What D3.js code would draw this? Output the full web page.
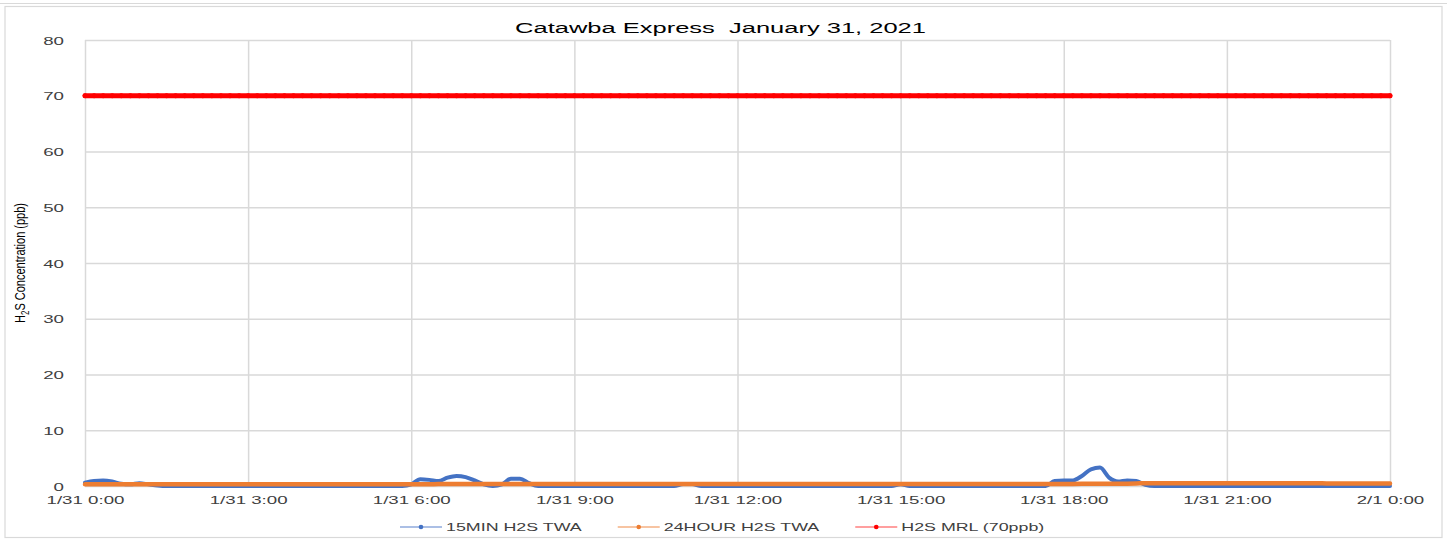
<!DOCTYPE html>
<html><head><meta charset="utf-8">
<script src="https://cdn.jsdelivr.net/npm/d3@7"></script>
<style>body{margin:0;background:#fff}svg{display:block}text{white-space:pre}</style>
</head><body>
<script>
// ---------- data ----------
const chartTitle = "Catawba Express  January 31, 2021";
const yAxisTitle = ["H", "2", "S Concentration (ppb)"];
const yTicks = [0, 10, 20, 30, 40, 50, 60, 70, 80];
const xTickMinutes = [0, 180, 360, 540, 720, 900, 1080, 1260, 1440];
const xTickLabels = ["1/31 0:00", "1/31 3:00", "1/31 6:00", "1/31 9:00", "1/31 12:00", "1/31 15:00", "1/31 18:00", "1/31 21:00", "2/1 0:00"];
const seriesNames = ["15MIN H2S TWA", "24HOUR H2S TWA", "H2S MRL (70ppb)"];
// sample times: minutes after 1/31 0:00, every 10 minutes
const sampleMinutes = d3.range(0, 1441, 10);
// 15MIN H2S TWA (ppb), 6 values per hour
const twa15 = [
  0.6,0.9,1.0,0.8,0.4,0.3,   // 0h
  0.5,0.3,0.1,0,0,0,         // 1h
  0,0,0,0,0,0,               // 2h
  0,0,0,0,0,0,               // 3h
  0,0,0,0,0,0,               // 4h
  0,0,0,0,0,0,               // 5h
  0.3,1.2,1.1,0.9,1.5,1.8,   // 6h
  1.6,1.0,0.3,0,0.3,1.3,     // 7h
  1.3,0.5,0,0,0,0,           // 8h
  0,0,0,0,0,0,               // 9h
  0,0,0,0,0,0,               // 10h
  0.35,0.35,0,0,0,0,         // 11h
  0,0,0,0,0,0,               // 12h
  0,0,0,0,0,0,               // 13h
  0,0,0,0,0,0,               // 14h
  0.3,0,0,0,0,0,             // 15h
  0,0,0,0,0,0,               // 16h
  0,0,0,0,0,0.9,             // 17h
  1.0,1.0,1.8,3.0,3.3,1.5,   // 18h
  0.8,1.0,0.9,0.2,0,0,       // 19h
  0,0,0,0,0,0,               // 20h
  0,0,0,0,0,0,               // 21h
  0,0,0,0,0,0,               // 22h
  0,0,0,0,0,0,               // 23h
  0                          // 24h
];
// 24HOUR H2S TWA (ppb)
const twa24 = [
  0.3,0.3,0.3,0.3,0.3,0.3,
  0.3,0.3,0.3,0.3,0.3,0.3,
  0.3,0.3,0.3,0.3,0.3,0.3,
  0.3,0.3,0.3,0.3,0.3,0.3,
  0.3,0.3,0.3,0.3,0.3,0.3,
  0.3,0.3,0.3,0.3,0.3,0.3,
  0.3,0.32,0.33,0.34,0.35,0.35,
  0.35,0.35,0.35,0.35,0.35,0.35,
  0.35,0.35,0.35,0.35,0.35,0.35,
  0.35,0.35,0.35,0.35,0.35,0.35,
  0.35,0.35,0.35,0.35,0.35,0.35,
  0.35,0.35,0.35,0.35,0.35,0.35,
  0.35,0.35,0.35,0.35,0.35,0.35,
  0.35,0.35,0.35,0.35,0.35,0.35,
  0.35,0.35,0.35,0.35,0.35,0.35,
  0.35,0.35,0.35,0.35,0.35,0.35,
  0.35,0.35,0.35,0.35,0.35,0.35,
  0.35,0.35,0.35,0.35,0.35,0.36,
  0.37,0.38,0.39,0.4,0.4,0.4,
  0.4,0.42,0.45,0.5,0.5,0.5,
  0.5,0.5,0.5,0.5,0.5,0.5,
  0.5,0.5,0.5,0.5,0.5,0.5,
  0.5,0.5,0.5,0.5,0.5,0.45,
  0.45,0.45,0.45,0.45,0.45,0.45,
  0.45
];
// H2S MRL (ppb)
const mrl = [
  70,70,70,70,70,70, 70,70,70,70,70,70, 70,70,70,70,70,70, 70,70,70,70,70,70,
  70,70,70,70,70,70, 70,70,70,70,70,70, 70,70,70,70,70,70, 70,70,70,70,70,70,
  70,70,70,70,70,70, 70,70,70,70,70,70, 70,70,70,70,70,70, 70,70,70,70,70,70,
  70,70,70,70,70,70, 70,70,70,70,70,70, 70,70,70,70,70,70, 70,70,70,70,70,70,
  70,70,70,70,70,70, 70,70,70,70,70,70, 70,70,70,70,70,70, 70,70,70,70,70,70,
  70,70,70,70,70,70, 70,70,70,70,70,70, 70,70,70,70,70,70, 70,70,70,70,70,70,
  70
];
const seriesColors = ["#4472C4", "#ED7D31", "#FF0000"];

// ---------- layout ----------
const W = 1447, H = 541;
const SX = 1.7;           // horizontal glyph stretch of the reference rendering
const FONT = "'Liberation Sans', Arial, sans-serif";
const M = {left: 85, right: 57, top: 40, bottom: 55};

const svg = d3.select("body").append("svg").attr("width", W).attr("height", H);

// outer frames
svg.append("line").attr("x1", 0).attr("x2", W).attr("y1", 3.5).attr("y2", 3.5)
  .attr("stroke", "#d9d9d9").attr("stroke-width", 1);
svg.append("rect").attr("x", 5).attr("y", 6.5).attr("width", 1437).attr("height", 531)
  .attr("fill", "#fff").attr("stroke", "#d9d9d9").attr("stroke-width", 1.2);

const x = d3.scaleLinear().domain([0, 1440]).range([M.left, W - M.right]);
const y = d3.scaleLinear().domain([0, 80]).range([H - M.bottom, M.top]);

// gridlines
svg.append("g").attr("transform", `translate(0,${y(0)})`)
  .call(d3.axisBottom(x).tickValues(xTickMinutes).tickSize(-(y(0) - y(80))).tickFormat(""))
  .call(g => g.select(".domain").remove())
  .call(g => g.selectAll("line").attr("stroke", "#d9d9d9").attr("stroke-width", 1.5));
svg.append("g").attr("transform", `translate(${x(0)},0)`)
  .call(d3.axisLeft(y).tickValues(yTicks).tickSize(-(x(1440) - x(0))).tickFormat(""))
  .call(g => g.select(".domain").remove())
  .call(g => g.selectAll("line").attr("stroke", "#d9d9d9").attr("stroke-width", 1.5));

// axes labels
const xAxis = svg.append("g").attr("transform", `translate(0,${y(0)})`)
  .call(d3.axisBottom(x).tickValues(xTickMinutes).tickSize(0).tickPadding(0)
    .tickFormat((d, i) => xTickLabels[i]));
xAxis.select(".domain").remove();
xAxis.selectAll("text").attr("y", 0).attr("dy", 0)
  .attr("transform", `translate(0,18) scale(${SX},1)`)
  .attr("font-family", FONT).attr("font-size", 11).attr("fill", "#404040");

const yAxis = svg.append("g").attr("transform", `translate(${x(0)},0)`)
  .call(d3.axisLeft(y).tickValues(yTicks).tickSize(0).tickPadding(0));
yAxis.select(".domain").remove();
yAxis.selectAll("text").attr("x", 0).attr("dy", 0)
  .attr("transform", `translate(-21,4) scale(${SX},1)`)
  .attr("font-family", FONT).attr("font-size", 11).attr("fill", "#404040");

// y axis title
const yt = svg.append("text")
  .attr("transform", `translate(25,${(y(0) + y(80)) / 2}) rotate(-90) scale(1,1.4)`)
  .attr("text-anchor", "middle").attr("font-family", "'Liberation Sans Narrow', 'Liberation Sans', sans-serif")
  .attr("font-size", 11).attr("fill", "#000");
yt.append("tspan").text(yAxisTitle[0]);
yt.append("tspan").attr("dy", 3).attr("font-size", 8).text(yAxisTitle[1]);
yt.append("tspan").attr("dy", -3).text(yAxisTitle[2]);

// title
svg.append("text").attr("transform", `translate(${(x(0) + x(1440)) / 2 - 17},33) scale(${SX},1)`)
  .attr("text-anchor", "middle").attr("font-family", FONT).attr("font-size", 15)
  .attr("fill", "#000").text(chartTitle);

// series
const seriesData = [twa15, twa24, mrl];
const line = d3.line().x((d, i) => x(sampleMinutes[i])).y(d => y(d)).curve(d3.curveMonotoneX);
const widths = [4, 4.5, 4.8];
seriesData.forEach((vals, k) => {
  svg.append("path").datum(vals).attr("d", line)
    .attr("fill", "none").attr("stroke", seriesColors[k]).attr("stroke-width", widths[k])
    .attr("stroke-linejoin", "round").attr("stroke-linecap", "round");
});
svg.append("g").selectAll("circle").data(mrl).join("circle")
  .attr("cx", (d, i) => x(sampleMinutes[i])).attr("cy", d => y(d)).attr("r", 2.5)
  .attr("fill", seriesColors[2]);

// legend
const legend = svg.append("g");
let cursor = 0;
const legendLight = ["#8FAADC", "#F4B183", "#FF7F7F"];
seriesNames.forEach((name, k) => {
  const g = legend.append("g").attr("transform", `translate(${cursor},0)`);
  g.append("line").attr("x1", 0).attr("x2", 42).attr("y1", 0).attr("y2", 0)
    .attr("stroke", legendLight[k]).attr("stroke-width", 1.5);
  g.append("circle").attr("cx", 21).attr("cy", 0).attr("r", 2.3).attr("fill", seriesColors[k]);
  const t = g.append("text").attr("transform", `translate(46,4) scale(${SX},1)`)
    .attr("font-family", FONT).attr("font-size", 10.5).attr("fill", "#404040").text(name);
  const tw = t.node().getComputedTextLength() * SX;
  cursor += 46 + tw + 36;
});
legend.attr("transform", `translate(400,527)`);
</script>
</body></html>
